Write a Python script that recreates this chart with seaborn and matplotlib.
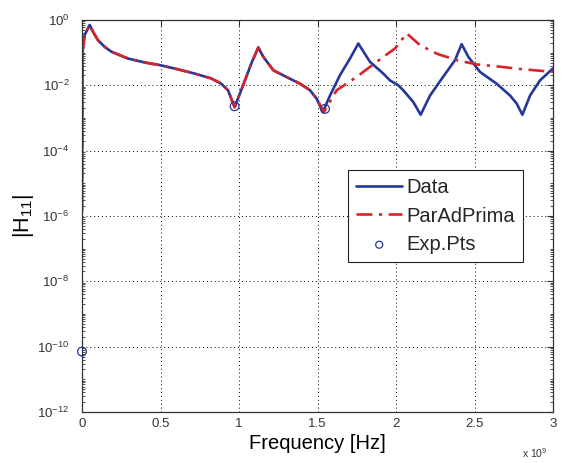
import numpy as np
import pandas as pd
import matplotlib
matplotlib.use("Agg")
import matplotlib.pyplot as plt
import matplotlib.ticker as mticker
import seaborn as sns

# Frequencies in units of 1e9 Hz, magnitudes as log10 |H11|
data_freq = [0.000, 0.003, 0.017, 0.049, 0.070, 0.102, 0.144, 0.187, 0.293,
             0.400, 0.495, 0.611, 0.718, 0.824, 0.887, 0.930, 0.972, 1.030,
             1.081, 1.123, 1.155, 1.219, 1.300, 1.389, 1.452, 1.495, 1.533,
             1.580, 1.643, 1.707, 1.760, 1.834, 1.919, 1.962, 2.015, 2.046,
             2.110, 2.157, 2.217, 2.300, 2.376, 2.418, 2.461, 2.535, 2.641,
             2.726, 2.769, 2.805, 2.854, 2.917, 2.998]
data_log = [-5.80, -1.00, -0.46, -0.15, -0.36, -0.62, -0.82, -0.97, -1.18,
            -1.30, -1.38, -1.51, -1.64, -1.79, -1.95, -2.15, -2.67, -1.95,
            -1.30, -0.84, -1.13, -1.54, -1.74, -1.95, -2.15, -2.41, -2.82,
            -2.31, -1.69, -1.18, -0.72, -1.28, -1.64, -1.85, -2.00, -2.15,
            -2.51, -2.90, -2.31, -1.74, -1.23, -0.74, -1.13, -1.59, -1.95,
            -2.31, -2.56, -2.90, -2.31, -1.85, -1.49]

fit_freq = [0.000, 0.003, 0.017, 0.049, 0.070, 0.102, 0.144, 0.187, 0.293,
            0.400, 0.495, 0.611, 0.718, 0.824, 0.887, 0.930, 0.972, 1.030,
            1.081, 1.123, 1.155, 1.219, 1.300, 1.389, 1.452, 1.495, 1.540,
            1.622, 1.750, 1.877, 1.994, 2.068, 2.153, 2.259, 2.387, 2.514,
            2.662, 2.810, 2.960, 3.000]
fit_log = [-5.90, -1.00, -0.46, -0.15, -0.36, -0.62, -0.82, -0.97, -1.18,
           -1.30, -1.38, -1.51, -1.64, -1.79, -1.95, -2.15, -2.67, -1.95,
           -1.30, -0.84, -1.13, -1.54, -1.74, -1.95, -2.15, -2.41, -2.82,
           -2.15, -1.74, -1.28, -0.87, -0.41, -0.77, -1.03, -1.23, -1.36,
           -1.43, -1.51, -1.57, -1.58]

exp_freq = [0.000, 0.972, 1.548]
exp_log = [-10.15, -2.64, -2.72]

x_ticks = [0, 0.5, 1, 1.5, 2, 2.5, 3]
y_exponents = [-12, -10, -8, -6, -4, -2, 0]

data_df = pd.DataFrame({"freq": data_freq, "mag": 10.0 ** np.array(data_log)})
fit_df = pd.DataFrame({"freq": fit_freq, "mag": 10.0 ** np.array(fit_log)})
exp_df = pd.DataFrame({"freq": exp_freq, "mag": 10.0 ** np.array(exp_log)})

sns.set_theme(style="white")
plt.rcParams["font.family"] = ["Liberation Sans", "DejaVu Sans"]
plt.rcParams["mathtext.fontset"] = "custom"
plt.rcParams["mathtext.rm"] = "Liberation Sans"
plt.rcParams["mathtext.it"] = "Liberation Sans:italic"
plt.rcParams["mathtext.bf"] = "Liberation Sans:bold"

fig = plt.figure(figsize=(5.65, 4.63), dpi=100, facecolor="white")
ax = fig.add_axes([82 / 565, 1 - 412 / 463, 471 / 565, 392 / 463])
ax.set_facecolor("white")

blue = "#24389a"
red = "#d8232a"

sns.lineplot(data=data_df, x="freq", y="mag", ax=ax, color=blue, lw=1.9,
             sort=False, estimator=None, label="Data")
sns.lineplot(data=fit_df, x="freq", y="mag", ax=ax, color=red, lw=1.9,
             sort=False, estimator=None, label="ParAdPrima",
             dashes=False, linestyle=(0, (6, 2.5, 1.2, 2.5)))
sns.scatterplot(data=exp_df, x="freq", y="mag", ax=ax, marker="o", s=40,
                facecolor="none", edgecolor=blue, linewidth=0.9,
                label="Exp.Pts", zorder=5, clip_on=False)

ax.set_yscale("log")
ax.set_xlim(0, 3)
ax.set_ylim(1e-12, 1e0)
ax.set_xticks(x_ticks)
ax.xaxis.set_major_formatter(mticker.FuncFormatter(lambda v, p: f"{v:g}"))
ax.set_yticks([10.0 ** e for e in y_exponents])
ax.yaxis.set_major_formatter(
    mticker.FuncFormatter(lambda v, p: r"$10^{%d}$" % round(np.log10(v))))
ax.yaxis.set_minor_locator(mticker.LogLocator(base=10, subs=np.arange(1, 10), numticks=200))
ax.yaxis.set_minor_formatter(mticker.NullFormatter())

ax.tick_params(axis="both", which="major", direction="in", length=4, width=0.8,
               top=True, right=True, color="#333333", labelcolor="#333333",
               labelsize=9.5)
ax.tick_params(axis="y", which="major", pad=9)
ax.tick_params(axis="x", which="major", pad=4)
ax.tick_params(axis="y", which="minor", direction="in", length=2, width=0.6,
               left=True, right=True, color="#333333")

ax.grid(True, which="major", color="black", linestyle=(0, (1, 3)), linewidth=0.7)
for sp in ax.spines.values():
    sp.set_color("#333333")
    sp.set_linewidth(0.9)

ax.set_xlabel("Frequency [Hz]", fontsize=14.5, color="black", labelpad=3)
ax.set_ylabel(r"|H$_{11}$|", fontsize=15.5, color="black", labelpad=1)
fig.text(535 / 565, 1 - 453 / 463, r"x $10^{9}$", fontsize=7.5, color="#333333",
         ha="center", va="center")

leg = ax.legend(loc="upper left", bbox_to_anchor=((348 - 82) / 471, (412 - 170) / 392),
                fontsize=14.5, frameon=True, fancybox=False, framealpha=1,
                edgecolor="#222222", handlelength=2.3, borderpad=0.4,
                labelspacing=0.47, handletextpad=0.2, borderaxespad=0,
                markerscale=0.8)
leg.get_frame().set_linewidth(0.8)

fig.savefig("out.png", dpi=100, facecolor="white")
